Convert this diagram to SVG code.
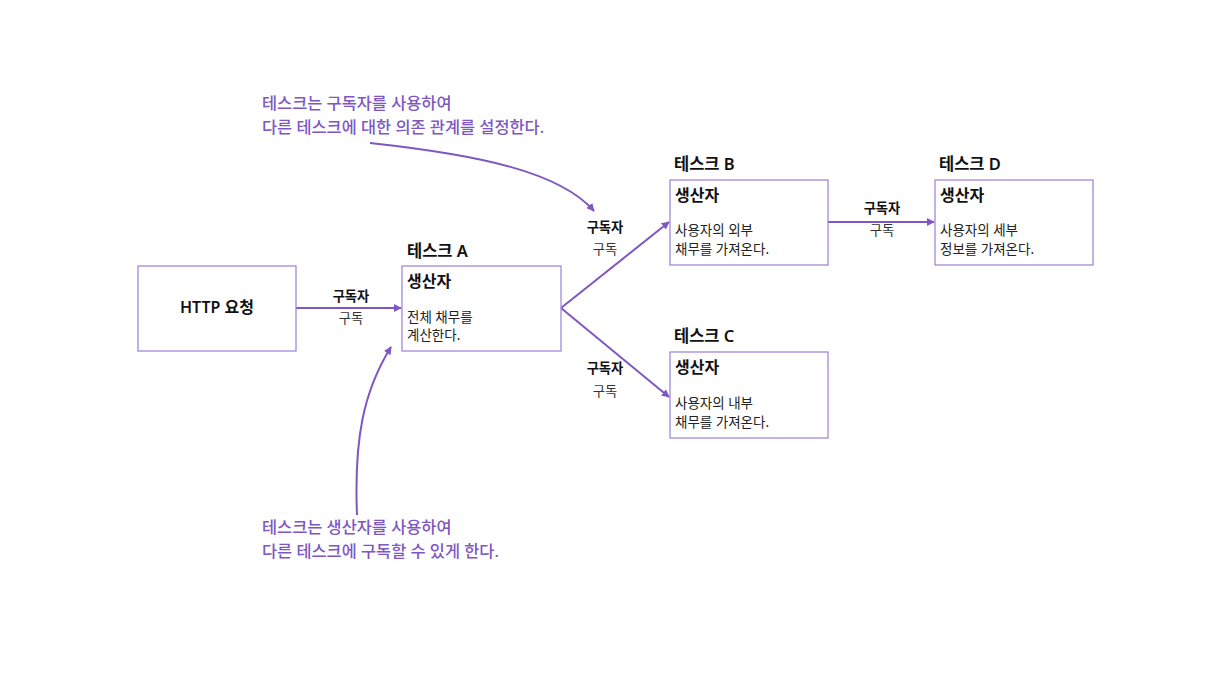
<svg xmlns="http://www.w3.org/2000/svg" width="1228" height="691" viewBox="0 0 1228 691">
<defs>
<marker id="ah" viewBox="0 0 10 10" refX="9" refY="5" markerWidth="8" markerHeight="8" markerUnits="userSpaceOnUse" orient="auto">
<path d="M0,0 L10,5 L0,10 Z" fill="#7e57c2"/>
</marker>
<style>
text{font-family:"Noto Sans","Noto Sans CJK KR",sans-serif;fill:#111}
.box{fill:#fff;stroke:#9b7fd4;stroke-width:1.2}
.title{font-size:16.5px;font-weight:600}
.prod{font-size:16px;font-weight:600}
.body{font-size:13.5px;fill:#222}
.lb{font-size:13.3px;font-weight:600;text-anchor:middle}
.ls{font-size:13.3px;text-anchor:middle;fill:#333}
.con{fill:none;stroke:#7e57c2;stroke-width:2;marker-end:url(#ah)}
.note{font-size:16.4px;font-weight:500;fill:#7e57c2}
</style>
</defs>
<rect width="1228" height="691" fill="#fff"/>
<g id="connectors">
<path class="con" d="M296,308 L401,308"/>
<path class="con" d="M561,308 L669,222"/>
<path class="con" d="M561,308 L669,397"/>
<path class="con" d="M828,222 L934,222"/>
<path class="con" d="M370,143 C480,155 560,172 594,211"/>
<path class="con" d="M357,515 C354,440 363,392 391,347"/>
<text class="lb" x="351" y="301">구독자</text>
<text class="ls" x="351" y="323">구독</text>
<text class="lb" x="605" y="232">구독자</text>
<text class="ls" x="605" y="254">구독</text>
<text class="lb" x="605" y="373">구독자</text>
<text class="ls" x="605" y="396">구독</text>
<text class="lb" x="882" y="213">구독자</text>
<text class="ls" x="882" y="235">구독</text>
</g>
<g id="http">
<rect class="box" x="138" y="266" width="158" height="85"/>
<text x="217" y="313" text-anchor="middle" style="font-size:16px;font-weight:600">HTTP 요청</text>
</g>
<g id="taskA">
<text class="title" x="407" y="257">테스크 A</text>
<rect class="box" x="402" y="266" width="159" height="85"/>
<text class="prod" x="407" y="287">생산자</text>
<text class="body" x="407" y="322">전체 채무를</text>
<text class="body" x="407" y="340">계산한다.</text>
</g>
<g id="taskB">
<text class="title" x="674" y="170">테스크 B</text>
<rect class="box" x="670" y="180" width="158" height="85"/>
<text class="prod" x="675" y="201">생산자</text>
<text class="body" x="675" y="235">사용자의 외부</text>
<text class="body" x="675" y="254">채무를 가져온다.</text>
</g>
<g id="taskC">
<text class="title" x="674" y="342">테스크 C</text>
<rect class="box" x="670" y="352" width="158" height="86"/>
<text class="prod" x="675" y="373">생산자</text>
<text class="body" x="675" y="408">사용자의 내부</text>
<text class="body" x="675" y="427">채무를 가져온다.</text>
</g>
<g id="taskD">
<text class="title" x="939" y="170">테스크 D</text>
<rect class="box" x="935" y="180" width="158" height="85"/>
<text class="prod" x="940" y="201">생산자</text>
<text class="body" x="940" y="235">사용자의 세부</text>
<text class="body" x="940" y="254">정보를 가져온다.</text>
</g>
<g id="note-top">
<text class="note" x="262" y="109">테스크는 구독자를 사용하여</text>
<text class="note" x="262" y="133">다른 테스크에 대한 의존 관계를 설정한다.</text>
</g>
<g id="note-bottom">
<text class="note" x="262" y="533">테스크는 생산자를 사용하여</text>
<text class="note" x="262" y="557">다른 테스크에 구독할 수 있게 한다.</text>
</g>
</svg>
